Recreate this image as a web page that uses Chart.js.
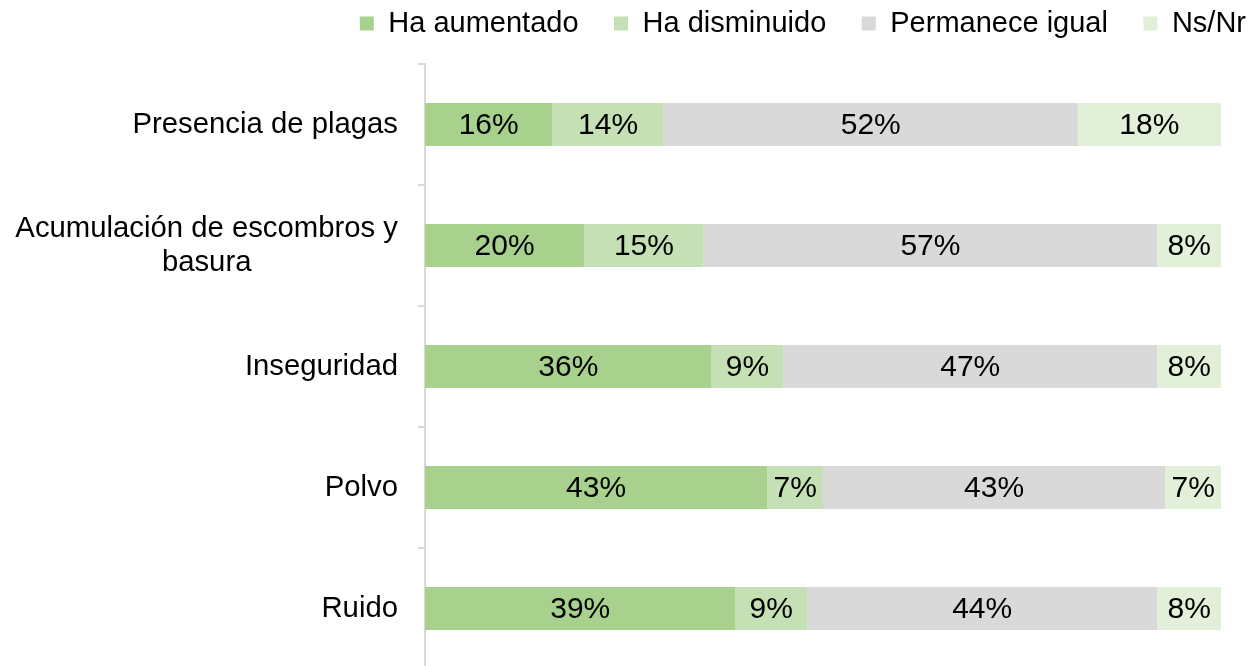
<!DOCTYPE html>
<html><head><meta charset="utf-8">
<script src="https://cdn.jsdelivr.net/npm/chart.js@4.4.1/dist/chart.umd.min.js"></script>
<style>html,body{margin:0;padding:0;background:#fff;overflow:hidden}#wrap{width:1250px;height:670px;position:relative}</style>
</head><body><div id="wrap"><canvas id="c"></canvas></div>
<script>
const categories = [['Presencia de plagas'], ['Acumulación de escombros y', 'basura'], ['Inseguridad'], ['Polvo'], ['Ruido']];
const seriesNames = ['Ha aumentado', 'Ha disminuido', 'Permanece igual', 'Ns/Nr'];
const haAumentado = [16, 20, 36, 43, 39];
const haDisminuido = [14, 15, 9, 7, 9];
const permaneceIgual = [52, 57, 47, 43, 44];
const nsNr = [18, 8, 8, 7, 8];
const seriesColors = ['#A9D18E', '#C5E0B4', '#D9D9D9', '#E2F0D9'];

const FONT = '"Liberation Sans", Arial, sans-serif';
const seriesValues = [haAumentado, haDisminuido, permaneceIgual, nsNr];

const yLabels = {
  id: 'yLabels',
  afterDraw(chart) {
    const y = chart.scales.y, ctx = chart.ctx;
    ctx.save();
    ctx.font = '29.3px ' + FONT;
    ctx.fillStyle = '#000';
    ctx.textBaseline = 'middle';
    ctx.textAlign = 'center';
    const xr = y.right - 27;
    const lh = 34;
    chart.data.labels.forEach((lab, i) => {
      const lines = Array.isArray(lab) ? lab : [lab];
      const cy = y.getPixelForValue(i);
      const w = Math.max(...lines.map(l => ctx.measureText(l).width));
      lines.forEach((l, k) => ctx.fillText(l, xr - w / 2, cy + (k - (lines.length - 1) / 2) * lh));
    });
    ctx.restore();
  }
};

const valueLabels = {
  id: 'valueLabels',
  afterDatasetsDraw(chart) {
    const ctx = chart.ctx;
    ctx.save();
    ctx.font = '30px ' + FONT;
    ctx.fillStyle = '#000';
    ctx.textAlign = 'center';
    ctx.textBaseline = 'middle';
    chart.data.datasets.forEach((ds, di) => {
      chart.getDatasetMeta(di).data.forEach((el, i) => {
        const p = el.getProps(['x', 'y', 'base'], true);
        ctx.fillText(ds.data[i] + '%', (p.x + p.base) / 2, p.y + 1);
      });
    });
    ctx.restore();
  }
};

new Chart(document.getElementById('c'), {
  type: 'bar',
  data: {
    labels: categories,
    datasets: seriesNames.map((name, i) => ({
      label: name,
      data: seriesValues[i],
      backgroundColor: seriesColors[i],
      borderWidth: 0,
      barPercentage: 0.355,
      categoryPercentage: 1
    }))
  },
  options: {
    indexAxis: 'y',
    responsive: true,
    maintainAspectRatio: false,
    animation: false,
    layout: { padding: { top: -26.5, left: 0, right: -31.5, bottom: 1 } },
    plugins: {
      legend: {
        position: 'top',
        align: 'end',
        labels: { boxWidth: 14, boxHeight: 14, padding: 35.5, color: '#000', font: { size: 29, family: FONT } }
      },
      tooltip: { enabled: false }
    },
    scales: {
      x: {
        stacked: true, min: 0, max: 100, position: 'top', display: true,
        grid: { display: false }, border: { display: false }, ticks: { display: false },
        afterFit(s) { s.height = 16; }
      },
      y: {
        stacked: true,
        grid: { display: true, drawOnChartArea: false, drawTicks: true, tickLength: 7, color: '#D9D9D9', lineWidth: 2, offset: true },
        border: { display: true, color: '#D9D9D9', width: 2 },
        ticks: { display: false },
        afterFit(s) { s.width = 425; }
      },
      yR: {
        type: 'linear', position: 'right', display: true,
        grid: { display: false }, border: { display: false }, ticks: { display: false },
        afterFit(s) { s.width = 60.5; }
      }
    }
  },
  plugins: [yLabels, valueLabels]
});
</script>
</body></html>
